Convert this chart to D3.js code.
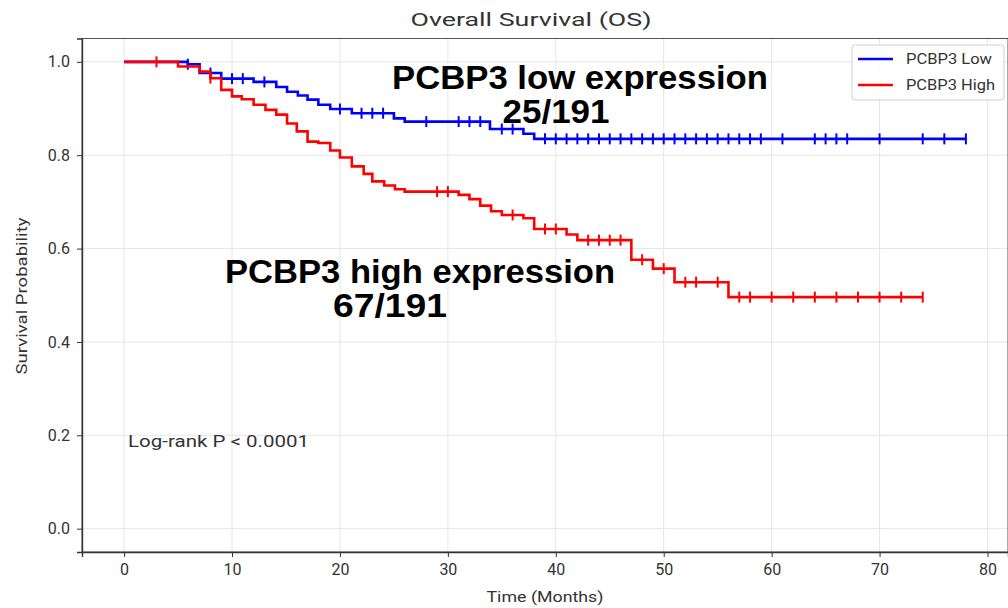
<!DOCTYPE html>
<html lang="en">
<head>
    <meta charset="utf-8">
    <title>Overall Survival (OS)</title>
    <script type="text/javascript" src="https://cdn.jsdelivr.net/npm/d3@7"></script>
    <style>
        body { margin: 0; background: #fff; }
        text { font-family: Roboto, "Noto Sans", sans-serif; fill: #333; }
        .big { font-family: "Liberation Sans", Arial, sans-serif; font-weight: bold; fill: #000; }
    </style>
</head>
<body>
<script type="text/javascript">
    // step times (months) and survival after each step
    var lowTimes = [0, 5.9, 7, 9, 12, 14.1, 15.1, 16.1, 17, 18, 19.1, 21.1, 25, 26, 33.9, 37, 38, 78];
    var lowSurv  = [1.0, 0.995, 0.976, 0.964, 0.957, 0.946, 0.936, 0.928, 0.919, 0.908, 0.899, 0.890, 0.879, 0.872, 0.856, 0.846, 0.835, 0.835];
    var lowCensor = [5.9, 8, 10, 11, 13, 20, 22, 23, 24, 28, 31, 32, 33, 35, 36,
        39, 40, 41, 42, 43, 44, 45, 46, 47, 48, 49, 50, 51, 52, 53, 54, 55, 56, 57, 58, 59,
        61, 64, 65, 66, 67, 70, 74, 76, 78];

    var highTimes = [0, 5, 7, 8, 9, 10, 10.9, 12, 13.1, 14.1, 15.1, 16, 17, 18, 19.1, 20, 21.1, 22.2, 23, 24.1, 25.1, 26,
        31, 32, 33, 34, 35, 37, 38, 41, 42, 47, 49, 51, 56, 74];
    var highSurv  = [1.0, 0.990, 0.979, 0.965, 0.940, 0.926, 0.920, 0.908, 0.897, 0.887, 0.868, 0.851, 0.829, 0.826, 0.810, 0.795, 0.776, 0.760, 0.744, 0.735, 0.727, 0.722,
        0.715, 0.706, 0.692, 0.680, 0.672, 0.665, 0.642, 0.630, 0.618, 0.576, 0.557, 0.528, 0.496, 0.496];
    var highCensor = [3, 8, 29, 30, 36, 39, 40, 43, 44, 45, 46, 48, 50, 52, 53, 55,
        57, 58, 60, 62, 64, 66, 68, 70, 72, 74];

    var xTicks = [0, 10, 20, 30, 40, 50, 60, 70, 80];
    var yTicks = [0.0, 0.2, 0.4, 0.6, 0.8, 1.0];
    var seriesNames = ["PCBP3 Low", "PCBP3 High"];

    var w = 1008, h = 608;
    var plotL = 82, plotR = 1008, plotT = 38.5, plotB = 552;

    var xScale = d3.scaleLinear().domain([-3.9, 81.9]).range([plotL, plotR]);
    var yScale = d3.scaleLinear().domain([-0.05, 1.05]).range([plotB, plotT]);

    var svg = d3.select("body").append("svg")
        .attr("width", w)
        .attr("height", h);

    // grid
    svg.append("g").selectAll("line")
        .data(xTicks).enter().append("line")
        .attr("x1", function(d) { return xScale(d); })
        .attr("x2", function(d) { return xScale(d); })
        .attr("y1", plotT).attr("y2", plotB)
        .attr("stroke", "#e6e6e6").attr("stroke-width", 1);
    svg.append("g").selectAll("line")
        .data(yTicks).enter().append("line")
        .attr("y1", function(d) { return yScale(d); })
        .attr("y2", function(d) { return yScale(d); })
        .attr("x1", plotL).attr("x2", plotR)
        .attr("stroke", "#e6e6e6").attr("stroke-width", 1);

    // frame
    svg.append("rect")
        .attr("x", plotL).attr("y", plotT)
        .attr("width", plotR - plotL).attr("height", plotB - plotT)
        .attr("fill", "none").attr("stroke", "#555").attr("stroke-width", 1);

    // axes
    var xAxis = d3.axisBottom(xScale).tickValues(xTicks).tickSize(5).tickPadding(7)
        .tickFormat(d3.format("d"));
    var gx = svg.append("g").attr("transform", "translate(0," + plotB + ")").call(xAxis);
    var yAxis = d3.axisLeft(yScale).tickValues(yTicks).tickSize(5).tickPadding(7)
        .tickFormat(d3.format(".1f"));
    var gy = svg.append("g").attr("transform", "translate(" + plotL + ",0)").call(yAxis);
    [gx, gy].forEach(function(g) {
        g.select(".domain").attr("stroke", "#333").attr("stroke-width", 1.4);
        g.selectAll(".tick line").attr("stroke", "#333");
        g.selectAll(".tick text").attr("font-size", "16px").attr("fill", "#333")
            .attr("font-family", "Roboto, sans-serif");
    });

    // titles
    svg.append("text").attr("x", 531).attr("y", 26)
        .attr("text-anchor", "middle").attr("font-size", "19px")
        .attr("textLength", 241).attr("lengthAdjust", "spacingAndGlyphs")
        .text("Overall Survival (OS)");
    svg.append("text").attr("x", 545).attr("y", 602)
        .attr("text-anchor", "middle").attr("font-size", "15px")
        .attr("textLength", 117).attr("lengthAdjust", "spacingAndGlyphs")
        .text("Time (Months)");
    svg.append("text")
        .attr("transform", "translate(27," + 296 + ") rotate(-90)")
        .attr("text-anchor", "middle").attr("font-size", "15px")
        .attr("textLength", 157).attr("lengthAdjust", "spacingAndGlyphs")
        .text("Survival Probability");

    // curves
    var line = d3.line()
        .x(function(d) { return xScale(d[0]); })
        .y(function(d) { return yScale(d[1]); })
        .curve(d3.curveStepAfter);

    function survAt(times, surv, t) {
        var i = d3.bisectRight(times, t) - 1;
        return surv[Math.max(0, i)];
    }

    function drawCurve(times, surv, censor, color) {
        var pts = times.map(function(t, i) { return [t, surv[i]]; });
        svg.append("path").datum(pts)
            .attr("d", line)
            .attr("fill", "none")
            .attr("stroke", color)
            .attr("stroke-width", 2.6);
        svg.append("g").selectAll("line")
            .data(censor).enter().append("line")
            .attr("x1", function(d) { return xScale(d); })
            .attr("x2", function(d) { return xScale(d); })
            .attr("y1", function(d) { return yScale(survAt(times, surv, d)) - 5.5; })
            .attr("y2", function(d) { return yScale(survAt(times, surv, d)) + 5.5; })
            .attr("stroke", color)
            .attr("stroke-width", 2);
    }

    drawCurve(lowTimes, lowSurv, lowCensor, "#0000ff");
    drawCurve(highTimes, highSurv, highCensor, "#ff0000");

    // legend
    var lg = svg.append("g").attr("transform", "translate(852,45)");
    lg.append("rect").attr("width", 152).attr("height", 55).attr("rx", 3)
        .attr("fill", "#fff").attr("fill-opacity", 0.85)
        .attr("stroke", "#d0d0d0");
    var colors = ["#0000ff", "#ff0000"];
    var nameLen = [86, 89];
    seriesNames.forEach(function(name, i) {
        lg.append("line").attr("x1", 6).attr("x2", 41)
            .attr("y1", 14 + i * 26).attr("y2", 14 + i * 26)
            .attr("stroke", colors[i]).attr("stroke-width", 2.6);
        lg.append("text").attr("x", 54).attr("y", 19 + i * 26)
            .attr("font-size", "14px")
            .attr("textLength", nameLen[i]).attr("lengthAdjust", "spacingAndGlyphs")
            .text(name);
    });

    // annotations
    svg.append("text").attr("class", "big").attr("x", 580).attr("y", 89)
        .attr("text-anchor", "middle").attr("font-size", "33px")
        .attr("textLength", 376).attr("lengthAdjust", "spacingAndGlyphs")
        .text("PCBP3 low expression");
    svg.append("text").attr("class", "big").attr("x", 556).attr("y", 123)
        .attr("text-anchor", "middle").attr("font-size", "33px")
        .attr("textLength", 107).attr("lengthAdjust", "spacingAndGlyphs")
        .text("25/191");
    svg.append("text").attr("class", "big").attr("x", 420).attr("y", 283)
        .attr("text-anchor", "middle").attr("font-size", "33px")
        .attr("textLength", 390).attr("lengthAdjust", "spacingAndGlyphs")
        .text("PCBP3 high expression");
    svg.append("text").attr("class", "big").attr("x", 390).attr("y", 317)
        .attr("text-anchor", "middle").attr("font-size", "33px")
        .attr("textLength", 114).attr("lengthAdjust", "spacingAndGlyphs")
        .text("67/191");

    svg.append("text").attr("x", 128).attr("y", 447)
        .attr("font-size", "16px")
        .attr("textLength", 181).attr("lengthAdjust", "spacingAndGlyphs")
        .text("Log-rank P < 0.0001");
</script>
</body>
</html>
